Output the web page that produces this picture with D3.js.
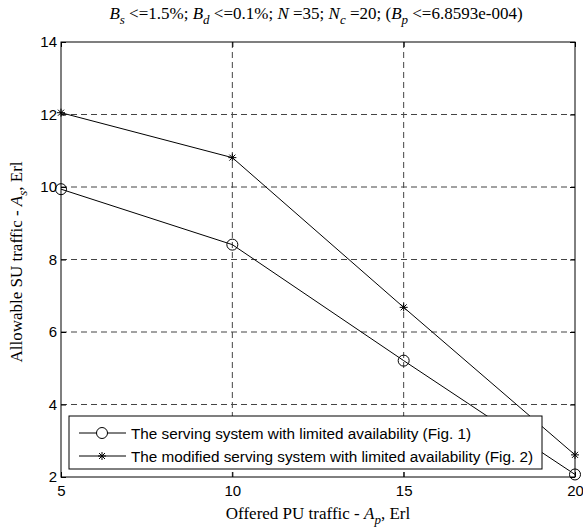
<!DOCTYPE html>
<html><head><meta charset="utf-8">
<script src="https://cdn.jsdelivr.net/npm/d3@7"></script>
<style>body{margin:0;background:#fff}</style>
</head><body>
<svg id="c" width="583" height="528"></svg>
<script>
const xValues = [5, 10, 15, 20];
const seriesFig1 = [9.94, 8.41, 5.21, 2.07];
const seriesFig2 = [12.05, 10.81, 6.68, 2.61];
const xTicks = [5, 10, 15, 20];
const yTicks = [2, 4, 6, 8, 10, 12, 14];
const legendLabels = ["The serving system with limited availability (Fig. 1)",
                      "The modified serving system with limited availability (Fig. 2)"];

const svg = d3.select("#c");
const L = 61, R = 575, T = 42, B = 477;
const x = d3.scaleLinear().domain([5, 20]).range([L, R]);
const y = d3.scaleLinear().domain([2, 14]).range([B, T]);
const sans = "Liberation Sans, Arial, sans-serif";
const serif = "Liberation Serif, Times New Roman, serif";

// grid
const g = svg.append("g");
g.selectAll(".gx").data(xTicks.slice(1, -1)).enter().append("line")
  .attr("x1", d => x(d)).attr("x2", d => x(d)).attr("y1", T).attr("y2", B)
  .attr("stroke", "#444").attr("stroke-dasharray", "6,4");
g.selectAll(".gy").data(yTicks.slice(1, -1)).enter().append("line")
  .attr("y1", d => y(d)).attr("y2", d => y(d)).attr("x1", L).attr("x2", R)
  .attr("stroke", "#444").attr("stroke-dasharray", "6,4");

// axes
svg.append("g").attr("transform", `translate(0,${B})`)
  .call(d3.axisBottom(x).tickValues(xTicks).tickSize(-5).tickPadding(8).tickFormat(d3.format("d")));
svg.append("g").attr("transform", `translate(${L},0)`)
  .call(d3.axisLeft(y).tickValues(yTicks).tickSize(-5).tickPadding(4).tickFormat(d3.format("d")));
svg.append("g").attr("transform", `translate(0,${T})`)
  .call(d3.axisTop(x).tickValues(xTicks).tickSize(-5).tickFormat(""));
svg.append("g").attr("transform", `translate(${R},0)`)
  .call(d3.axisRight(y).tickValues(yTicks).tickSize(-5).tickFormat(""));
svg.selectAll(".domain").remove();
svg.selectAll(".tick line").attr("stroke", "#000");
svg.selectAll(".tick text").attr("font-family", sans).attr("font-size", 15).attr("fill", "#000");
svg.append("rect").attr("x", L).attr("y", T).attr("width", R - L).attr("height", B - T)
  .attr("fill", "none").attr("stroke", "#000").attr("stroke-width", 1);

// lines
const line = d3.line().x((d, i) => x(xValues[i])).y(d => y(d));
[seriesFig1, seriesFig2].forEach(s => {
  svg.append("path").datum(s).attr("d", line).attr("fill", "none").attr("stroke", "#000").attr("stroke-width", 1);
});
function star(sel, cx, cy) {
  const r = 4;
  const p = `M${cx - r},${cy}L${cx + r},${cy}M${cx},${cy - r}L${cx},${cy + r}` +
    `M${cx - 3},${cy - 3}L${cx + 3},${cy + 3}M${cx - 3},${cy + 3}L${cx + 3},${cy - 3}`;
  sel.append("path").attr("d", p).attr("stroke", "#000").attr("stroke-width", 1);
}
seriesFig1.forEach((v, i) => {
  svg.append("circle").attr("cx", x(xValues[i])).attr("cy", y(v)).attr("r", 5.5)
    .attr("fill", "none").attr("stroke", "#000");
});
seriesFig2.forEach((v, i) => star(svg, x(xValues[i]), y(v)));

// legend
const lg = svg.append("g");
lg.append("rect").attr("x", 69).attr("y", 416).attr("width", 473).attr("height", 53)
  .attr("fill", "#fff").attr("stroke", "#000");
legendLabels.forEach((t, i) => {
  const ly = 433 + i * 23;
  lg.append("line").attr("x1", 79).attr("x2", 126).attr("y1", ly).attr("y2", ly).attr("stroke", "#000");
  if (i === 0) lg.append("circle").attr("cx", 102).attr("cy", ly).attr("r", 5.5).attr("fill", "#fff").attr("stroke", "#000");
  else star(lg, 102, ly);
  lg.append("text").attr("x", 131).attr("y", ly + 5.5).text(t)
    .attr("font-family", sans).attr("font-size", 15.3);
});

// labels (Times)
function rich(parent, segs) {
  segs.forEach(s => {
    const ts = parent.append("tspan").text(s.t);
    if (s.i) ts.attr("font-style", "italic");
    if (s.sub) ts.attr("baseline-shift", "-40%").attr("font-size", 13);
  });
}
const title = svg.append("text").attr("x", 316).attr("y", 19).attr("text-anchor", "middle")
  .attr("font-family", serif).attr("font-size", 17);
rich(title, [{t: "B", i: 1}, {t: "s", i: 1, sub: 1}, {t: " <=1.5%; "}, {t: "B", i: 1}, {t: "d", i: 1, sub: 1},
  {t: " <=0.1%; "}, {t: "N", i: 1}, {t: " =35; "}, {t: "N", i: 1}, {t: "c", i: 1, sub: 1}, {t: " =20; ("},
  {t: "B", i: 1}, {t: "p", i: 1, sub: 1}, {t: " <=6.8593e-004)"}]);

const xl = svg.append("text").attr("x", 318).attr("y", 519).attr("text-anchor", "middle")
  .attr("font-family", serif).attr("font-size", 17);
rich(xl, [{t: "Offered PU traffic - "}, {t: "A", i: 1}, {t: "p", i: 1, sub: 1}, {t: ", Erl"}]);

const yl = svg.append("text").attr("transform", `translate(22,262) rotate(-90)`)
  .attr("text-anchor", "middle").attr("font-family", serif).attr("font-size", 17);
rich(yl, [{t: "Allowable SU traffic - "}, {t: "A", i: 1}, {t: "s", i: 1, sub: 1}, {t: ", Erl"}]);
</script>
</body></html>
